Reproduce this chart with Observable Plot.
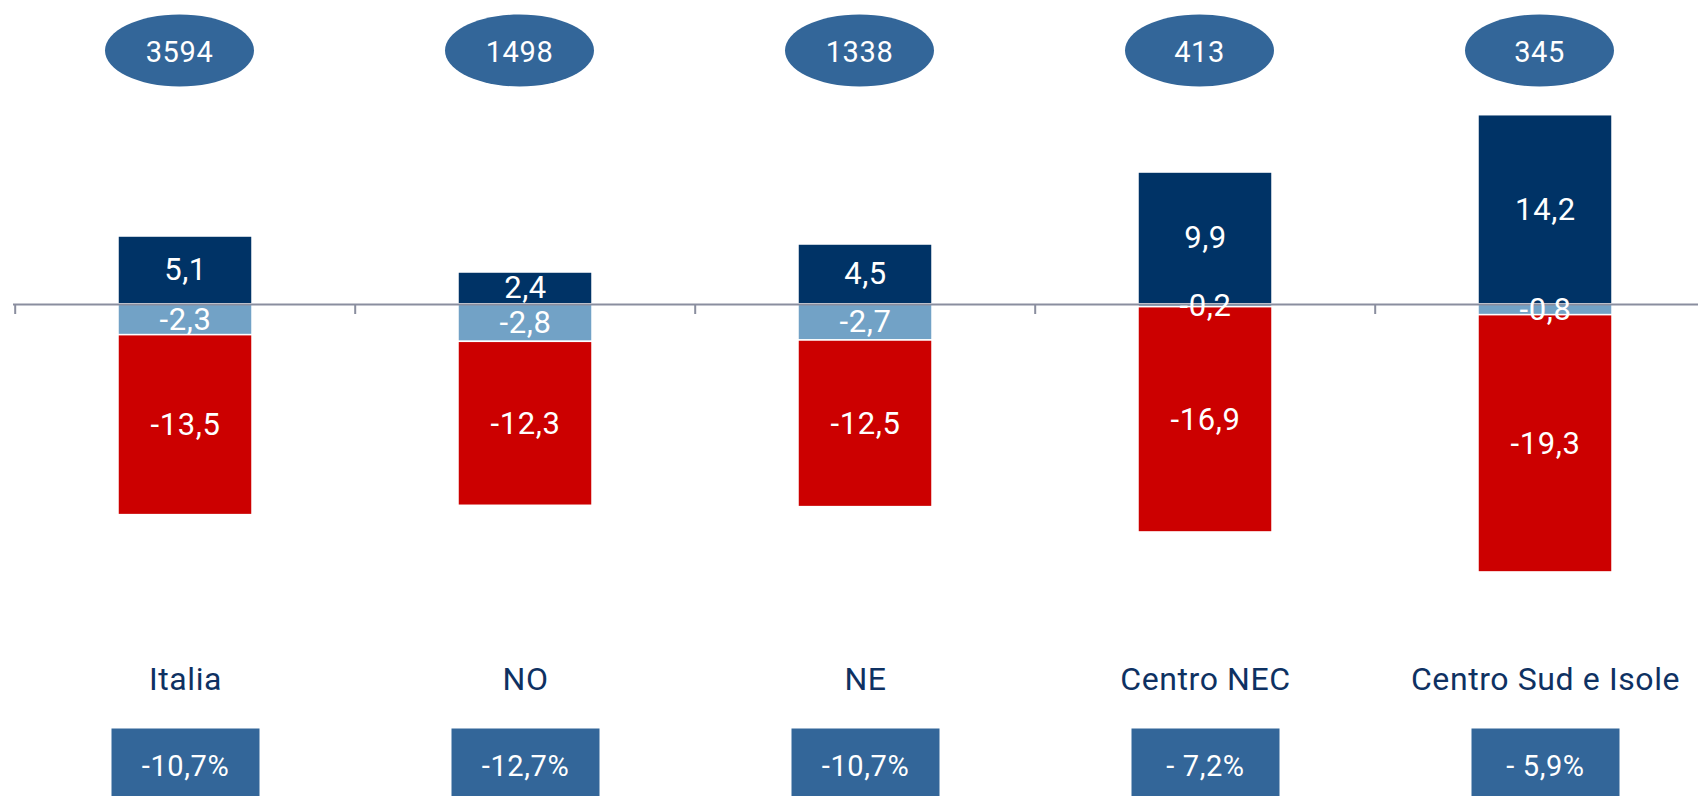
<!DOCTYPE html>
<html>
<head>
<meta charset="utf-8">
<script src="https://cdn.jsdelivr.net/npm/d3@7"></script>
<script src="https://cdn.jsdelivr.net/npm/@observablehq/plot@0.6"></script>
<style>
  html, body { margin: 0; padding: 0; background: #ffffff; }
  #chart { width: 1698px; height: 796px; overflow: hidden; }
  #chart svg text { letter-spacing: 0.6px; }
</style>
</head>
<body>
<div id="chart"></div>
<script>
// ---- data ----
const categories = ["Italia", "NO", "NE", "Centro NEC", "Centro Sud e Isole"];
const seriesNames = ["positivo", "negativo lieve", "negativo"];
const positiveValues = [5.1, 2.4, 4.5, 9.9, 14.2];
const lightNegativeValues = [-2.3, -2.8, -2.7, -0.2, -0.8];
const redNegativeValues = [-13.5, -12.3, -12.5, -16.9, -19.3];
const totals = [3594, 1498, 1338, 413, 345];
const changeLabels = ["-10,7%", "-12,7%", "-10,7%", "- 7,2%", "- 5,9%"];

// ---- tables built from the arrays ----
const seriesValues = [positiveValues, lightNegativeValues, redNegativeValues];
const segments = [];
seriesNames.forEach((s, j) => {
  categories.forEach((c, i) => segments.push({category: c, series: s, value: seriesValues[j][i]}));
});
const summary = categories.map((c, i) => ({category: c, total: totals[i], change: changeLabels[i]}));

const fmt = v => v.toFixed(1).replace(".", ",");

// ---- styling ----
const FONT = "Roboto, 'Open Sans', sans-serif";
const colors = ["#003366", "#72a2c6", "#cc0000"];
const badge = "#336699";
const axisGrey = "#8a8e9f";
const labelNavy = "#0e3162";

const xRange = [13, 1716];
const step = (xRange[1] - xRange[0]) / categories.length;
const paddingInner = 0.6066;

const ellipseSymbol = {
  draw(ctx) {
    const rx = 74.5, ry = 36, k = 0.5523;
    ctx.moveTo(rx, 0);
    ctx.bezierCurveTo(rx, ry * k, rx * k, ry, 0, ry);
    ctx.bezierCurveTo(-rx * k, ry, -rx, ry * k, -rx, 0);
    ctx.bezierCurveTo(-rx, -ry * k, -rx * k, -ry, 0, -ry);
    ctx.bezierCurveTo(rx * k, -ry, rx, -ry * k, rx, 0);
    ctx.closePath();
  }
};
const boxSymbol = {
  draw(ctx) {
    ctx.rect(-74, -38, 148, 90);
  }
};

const chart = Plot.plot({
  width: 1698,
  height: 796,
  marginTop: 0,
  marginBottom: 0,
  marginLeft: 13,
  marginRight: 0,
  style: {fontFamily: FONT, background: "#ffffff"},
  x: {
    type: "band",
    domain: categories,
    range: xRange,
    paddingInner: paddingInner,
    paddingOuter: paddingInner / 2,
    axis: null
  },
  y: {domain: [-30, 20], range: [304 + 30 * 13.33, 304 - 20 * 13.33], axis: null},
  color: {domain: seriesNames, range: colors},
  marks: [
    Plot.barY(segments, {x: "category", y: "value", fill: "series", z: "series", stroke: "white", strokeWidth: 1.5}),
    Plot.ruleY([0], {stroke: axisGrey, strokeWidth: 2}),
    Plot.ruleX(categories, {x: d => d, y1: 0, y2: -0.75, dx: -step / 2, stroke: axisGrey, strokeWidth: 2}),
    Plot.text(segments, Plot.stackY({
      x: "category", y: "value", z: "series",
      text: d => fmt(d.value),
      fill: "white", fontSize: 31, fontFamily: FONT
    })),
    // count badges
    Plot.dot(summary, {x: "category", frameAnchor: "top", dy: 50, dx: -6, symbol: ellipseSymbol, fill: badge, stroke: "none"}),
    Plot.text(summary, {x: "category", frameAnchor: "top", dy: 52, dx: -6, text: d => String(d.total), fill: "white", fontSize: 29, fontFamily: FONT, lineAnchor: "middle"}),
    // category labels
    Plot.text(summary, {x: "category", frameAnchor: "top", dy: 679, text: "category", fill: labelNavy, fontSize: 32, fontFamily: FONT, lineAnchor: "middle"}),
    // change boxes
    Plot.dot(summary, {x: "category", frameAnchor: "top", dy: 766, symbol: boxSymbol, fill: badge, stroke: "none"}),
    Plot.text(summary, {x: "category", frameAnchor: "top", dy: 766, text: "change", fill: "white", fontSize: 29, fontFamily: FONT, lineAnchor: "middle"})
  ]
});
document.getElementById("chart").appendChild(chart);
</script>
</body>
</html>
